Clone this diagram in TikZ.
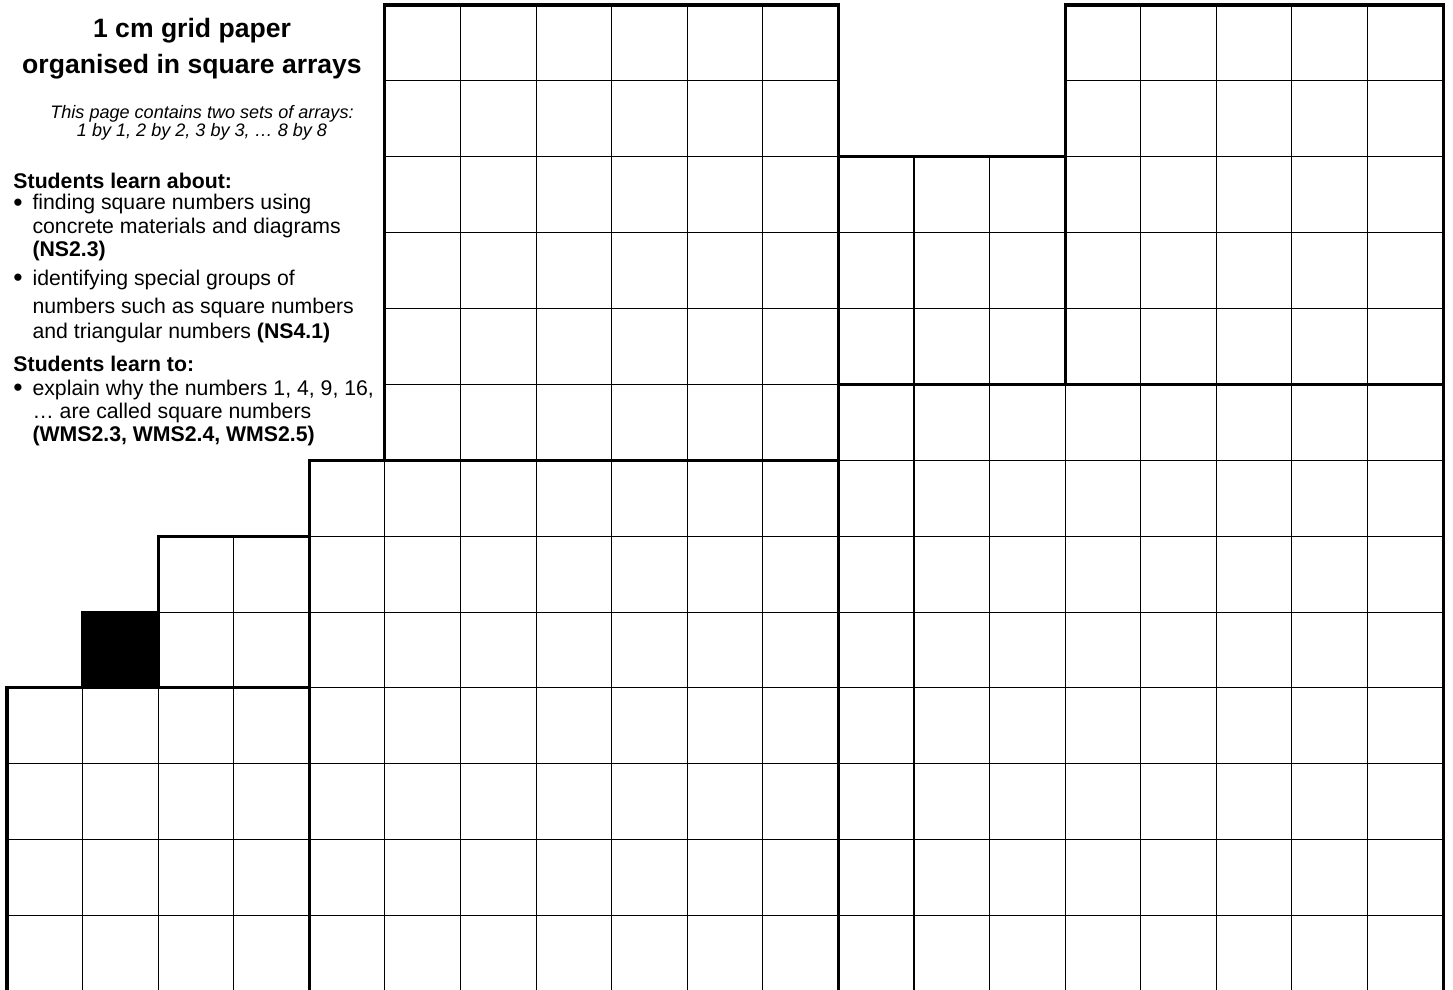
\documentclass[tikz,border=0pt]{standalone}
\usepackage{fontspec}
\setmainfont{Liberation Sans}
\usetikzlibrary{positioning}

\newcommand{\bul}{\makebox[0.252cm][l]{\raisebox{-0.5pt}{\fontsize{10}{10}\selectfont•}}}

\begin{document}
\begin{tikzpicture}[
    x=1cm, y=-1.004cm,
    cellline/.style={line width=0.4pt},
    arrayedge/.style={line width=1.15pt},
    titletext/.style={font=\fontsize{10}{12}\selectfont\bfseries, anchor=base, inner sep=0pt},
    notetext/.style={font=\fontsize{6.8}{8}\selectfont\itshape, anchor=base, inner sep=0pt},
    headtext/.style={font=\fontsize{8}{9.6}\selectfont\bfseries, anchor=base west, inner sep=0pt},
    bodytext/.style={font=\fontsize{8}{9.6}\selectfont, anchor=base west, inner sep=0pt},
]
\clip (-0.0926,-0.0657) rectangle (19.132,12.968);

% --- Square arrays: left column / top row / side ------------
\fill (1,8) rectangle (2,9);
\foreach \cx/\cy/\n in {5/0/6, 14/0/5, 11/2/3, 4/6/7, 11/5/8, 0/9/4, 2/7/2, 1/8/1} {
    \foreach \i in {0,...,\n} {
        \draw[cellline] (\cx+\i,\cy) -- (\cx+\i,\cy+\n);
        \draw[cellline] (\cx,\cy+\i) -- (\cx+\n,\cy+\i);
    }
    \draw[arrayedge] (\cx,\cy) rectangle ++(\n,\n);
}

% --- Heading -------------------------------------------------
\node[titletext] (title1) at (2.448,0.422) {1 cm grid paper};
\node[titletext] (title2) at (2.448,0.909) {organised in square arrays};
\node[notetext] (note1) at (2.580,1.495) {This page contains two sets of arrays:};
\node[notetext] (note2) at (2.580,1.727) {1 by 1, 2 by 2, 3 by 3, … 8 by 8};

% --- Learn about ---------------------------------------------
\node[headtext] (about) at (0.079,2.412) {Students learn about:};
\node[bodytext] (ab1) at (0.079,2.701) {\bul finding square numbers using};
\node[bodytext] (ab2) at (0.331,3.005) {concrete materials and diagrams};
\node[bodytext] (ab3) at (0.331,3.308) {\textbf{(NS2.3)}};
\node[bodytext] (ab4) at (0.079,3.690) {\bul identifying special groups of};
\node[bodytext] (ab5) at (0.331,4.070) {numbers such as square numbers};
\node[bodytext] (ab6) at (0.331,4.400) {and triangular numbers \textbf{(NS4.1)}};

% --- Learn to ------------------------------------------------
\node[headtext] (to) at (0.079,4.835) {Students learn to:};
\node[bodytext] (to1) at (0.079,5.140) {\bul explain why the numbers 1, 4, 9, 16,};
\node[bodytext] (to2) at (0.331,5.443) {… are called square numbers};
\node[bodytext] (to3) at (0.331,5.755) {\textbf{(WMS2.3, WMS2.4, WMS2.5)}};

\end{tikzpicture}
\end{document}
